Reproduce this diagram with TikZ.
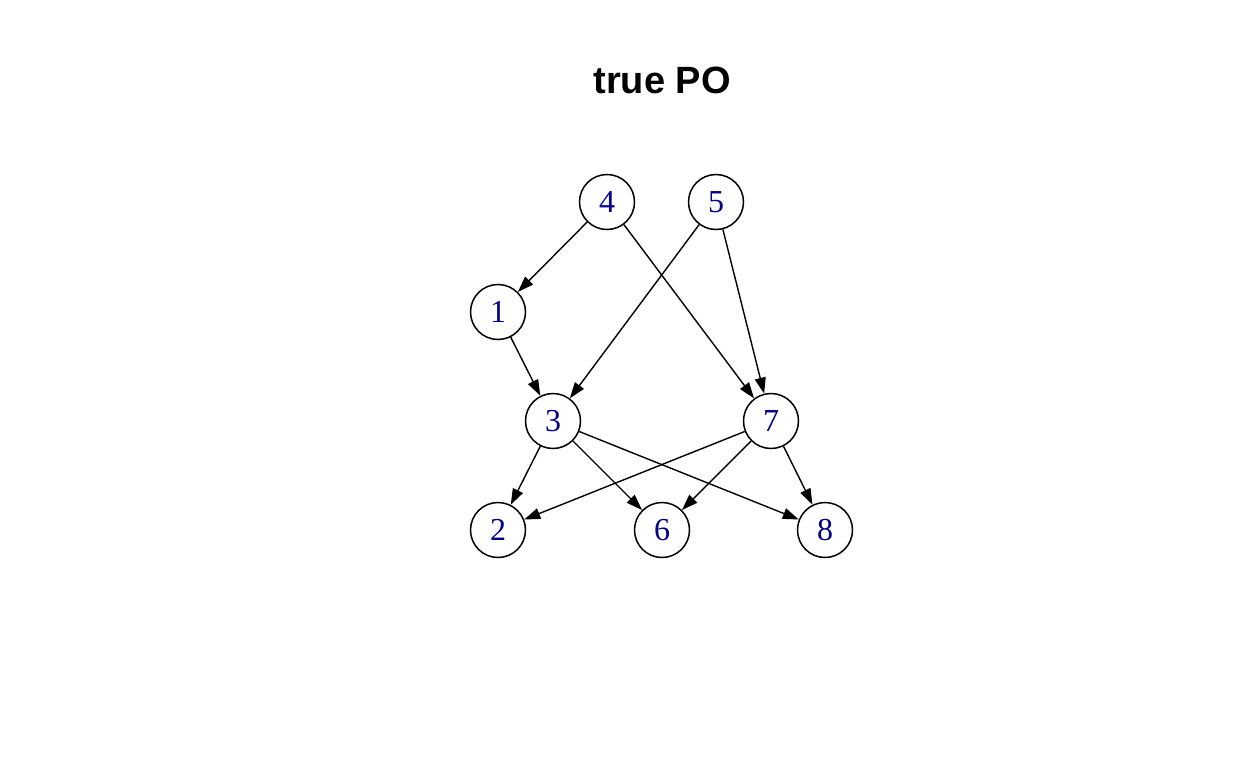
\documentclass[tikz,border=0pt]{standalone}
\usepackage{fontspec}
\setmainfont{Liberation Serif}
\newfontfamily\titlefont{Liberation Sans}
\usepackage{tikz}
\usetikzlibrary{arrows.meta}
\definecolor{vtxblue}{RGB}{0,0,139}

\begin{document}
\begin{tikzpicture}[
  x=1pt, y=-1pt,
  vtx/.style={circle, draw=black, line width=1.5pt, fill=white,
              minimum size=55pt, inner sep=0pt, text=vtxblue,
              font=\fontsize{32}{35}\selectfont},
  arr/.style={-{Triangle[length=16pt, width=11pt]}, line width=1.4pt, black}
]
\useasboundingbox (0,0) rectangle (1248,768);
\node[font=\titlefont\bfseries\fontsize{38}{42}\selectfont] (title) at (662,80) {true PO};
\node[vtx] (v4) at (607,202) {4};
\node[vtx] (v5) at (716,202) {5};
\node[vtx] (v1) at (498,312) {1};
\node[vtx] (v3) at (553,421) {3};
\node[vtx] (v7) at (771,421) {7};
\node[vtx] (v2) at (498,530) {2};
\node[vtx] (v6) at (662,530) {6};
\node[vtx] (v8) at (825,530) {8};
\draw[arr] (v4) -- (v1);
\draw[arr] (v4) -- (v7);
\draw[arr] (v5) -- (v3);
\draw[arr] (v5) -- (v7);
\draw[arr] (v1) -- (v3);
\draw[arr] (v3) -- (v2);
\draw[arr] (v3) -- (v6);
\draw[arr] (v3) -- (v8);
\draw[arr] (v7) -- (v2);
\draw[arr] (v7) -- (v6);
\draw[arr] (v7) -- (v8);
\end{tikzpicture}
\end{document}
